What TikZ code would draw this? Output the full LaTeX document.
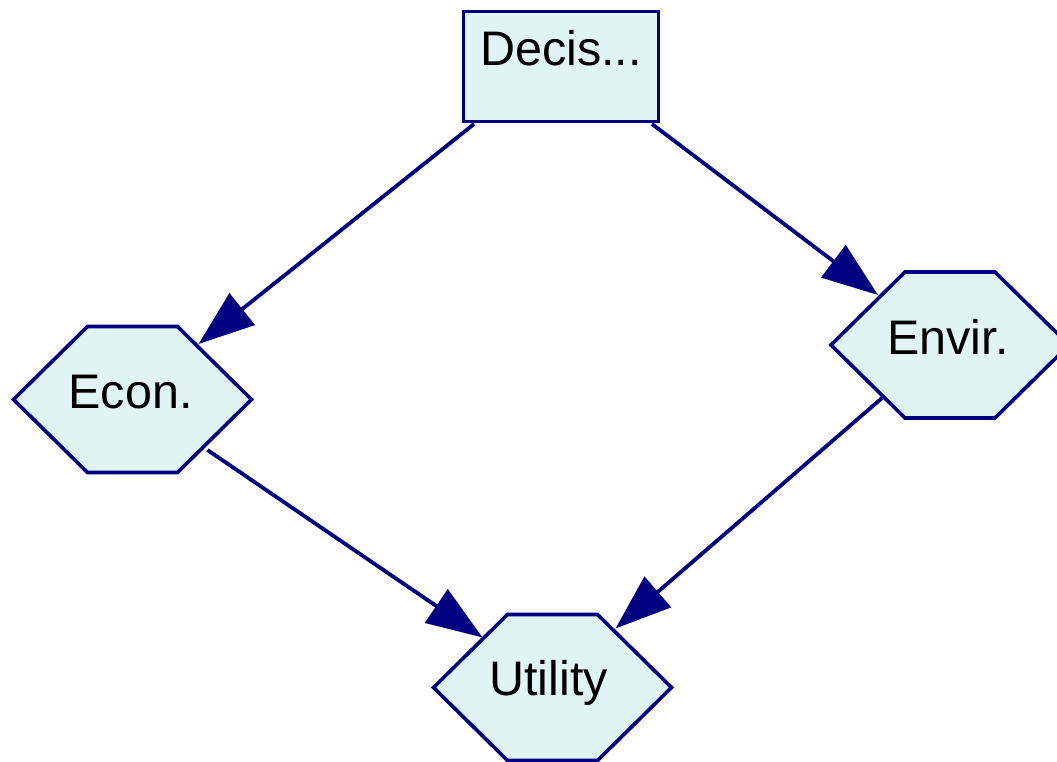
\documentclass[tikz,border=0pt]{standalone}
\usepackage{fontspec}
\setmainfont{Liberation Sans}
\usetikzlibrary{calc,arrows.meta}

\definecolor{edgeblue}{RGB}{0,0,128}
\definecolor{nodefill}{RGB}{225,244,244}

% half width, half height and half top edge of the hexagons
\newcommand\hexhw{119}
\newcommand\hexhh{73}
\newcommand\hexte{45}
\newcommand\drawhex[1]{%
  \path[hexline] ($(#1)+(-\hexhw,0)$) -- ($(#1)+(-\hexte,-\hexhh)$)
    -- ($(#1)+(\hexte,-\hexhh)$) -- ($(#1)+(\hexhw,0)$)
    -- ($(#1)+(\hexte,\hexhh)$) -- ($(#1)+(-\hexte,\hexhh)$) -- cycle;}

\tikzset{
  hexline/.style={draw=edgeblue, fill=nodefill, line width=3.6pt, line join=miter},
  hexslot/.style={rectangle, inner sep=0pt, minimum width=238pt, minimum height=146pt},
  decbox/.style={rectangle, draw=edgeblue, fill=nodefill, line width=3.6pt,
    inner sep=0pt, minimum width=195pt, minimum height=110pt},
  lbl/.style={anchor=base, inner sep=0pt, text=black,
    font=\fontsize{48.5}{58}\selectfont},
  link/.style={draw=edgeblue, line width=3.8pt,
    -{Triangle[length=56pt, width=40pt]}}
}

\begin{document}
\begin{tikzpicture}[x=1pt, y=-1pt]
  \useasboundingbox (0,0) rectangle (1057,761);

  % decision node
  \node[decbox] (dec) at (561,66.5) {};
  \node[lbl] (dec-t) at ($(dec)+(0,-1.5)$) {Decis...};

  % hexagonal nodes
  \node[hexslot] (econ) at (132.5,399.5) {};
  \node[hexslot] (env) at (950,345) {};
  \node[hexslot] (util) at (552.5,687.5) {};
  \drawhex{econ}
  \drawhex{env}
  \drawhex{util}
  \node[lbl] (econ-t) at ($(econ)+(-2,8.5)$) {Econ.};
  \node[lbl] (env-t) at ($(env)+(-2,9)$) {Envir.};
  \node[lbl] (util-t) at ($(util)+(-4,7.5)$) {Utility};

  % influence arcs
  \draw[link] ($(dec)+(-87,57.5)$) -- ($(econ)+(66,-55.5)$);
  \draw[link] ($(dec)+(91,57.5)$) -- ($(env)+(-72,-50)$);
  \draw[link] ($(econ)+(75,50.5)$) -- ($(util)+(-70,-50)$);
  \draw[link] ($(env)+(-68,53)$) -- ($(util)+(63,-59)$);
\end{tikzpicture}
\end{document}
